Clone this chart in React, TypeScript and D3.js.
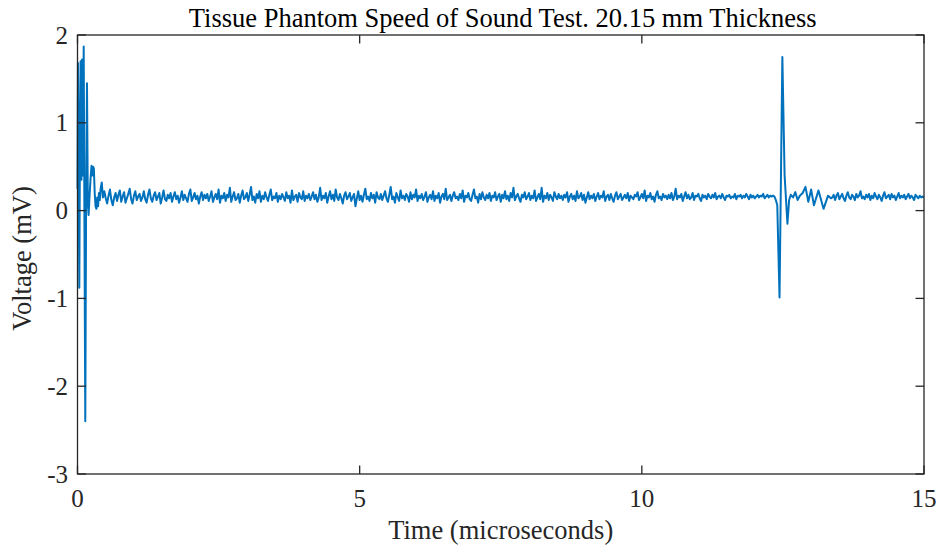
import React from "react";
import * as d3 from "d3";

// ---- data (time in microseconds, voltage in mV) ----
const burstTime = [0, 0.008, 0.016, 0.032, 0.045, 0.055, 0.07, 0.08, 0.095, 0.11, 0.124, 0.138, 0.153, 0.168, 0.183, 0.197, 0.212, 0.23, 0.248, 0.262, 0.275, 0.29, 0.305, 0.32, 0.335, 0.35, 0.365, 0.38, 0.395, 0.41, 0.43, 0.45];
const burstValue = [0.25, 1.68, 0.9, -0.88, 1.0, 1.7, 0.35, 1.72, 0.4, 1.87, -0.3, -2.4, 0.2, 1.45, 0.1, -0.05, 0.15, 0.35, 0.51, 0.4, 0.5, 0.48, 0.2, 0.05, 0.02, 0.15, 0.05, 0.2, 0.12, 0.25, 0.32, 0.15];

// baseline noise, hundredths of mV, sampled every 0.025 us from 0.475 us
const noiseStart = 0.475;
const noiseStep = 0.025;
const noiseHundredths = [
  22,14,8,17,24,12,6,15,20,11,18,23,10,16,21,9,14,19,25,13,8,17,22,12,16,
  19,11,15,22,13,9,18,24,14,10,17,21,12,16,20,8,15,23,13,11,18,14,20,10,16,
  21,13,17,9,15,22,12,18,14,10,19,24,11,15,20,13,17,8,16,21,12,18,14,19,11,
  16,22,10,15,19,13,24,9,17,14,20,11,18,15,26,10,16,21,12,14,19,9,17,23,13,
  15,20,11,18,27,12,16,9,19,14,22,10,17,13,21,15,11,18,24,12,16,14,20,10,17,
  13,19,15,11,21,14,17,9,23,12,16,18,10,20,15,13,22,11,17,14,19,12,16,21,13,
  18,10,15,26,12,17,14,20,9,16,22,13,18,11,24,15,12,19,14,8,17,21,13,16,20,
  11,15,19,5,14,22,12,17,10,18,25,13,16,11,20,14,18,9,21,15,13,19,12,17,22,
  14,10,18,27,13,16,9,20,15,11,23,14,17,12,19,16,10,21,13,18,15,24,11,17,14,
  19,12,16,21,10,15,18,13,22,11,17,14,20,9,16,19,13,25,12,15,18,11,17,21,14,
  16,12,19,14,23,10,17,15,20,13,11,18,24,14,16,9,19,13,21,15,12,18,14,20,11,
  17,15,21,12,16,19,10,18,14,22,13,17,11,20,15,26,12,16,19,14,10,18,15,21,13,
  16,20,12,17,14,23,11,15,19,13,26,10,17,14,20,12,18,15,11,21,16,13,19,14,17,
  12,18,15,21,10,16,19,13,17,11,22,14,16,20,12,18,9,15,21,13,17,14,19,11,16,
  20,13,17,15,22,11,16,18,12,19,14,10,17,21,13,16,19,12,15,18,14,20,11,17,15,
  13,18,16,21,12,15,19,14,23,11,17,15,20,13,16,10,18,22,14,16,12,19,15,17,13,
  18,14,20,12,16,25,13,17,15,19,11,16,21,14,18,13,15,20,12,17,16,19,14,11,18,
  15,17,13,19,16,14,18,15,20,13,16,17,14,19,15,12,17,16,18,14,16,15,19,13,17,
  16,18,14,17,15,19,16,13,18,15,17,14,16,18,15,17,16,19,14,16,18,15,17,16,17,
];

const echoTime = [12.35, 12.375, 12.4, 12.44, 12.49, 12.53, 12.58, 12.61, 12.64, 12.68, 12.72, 12.76, 12.8, 12.85, 12.9, 12.95, 13.0, 13.05, 13.13, 13.22, 13.3, 13.35];
const echoValue = [0.16, 0.12, 0.06, -0.99, 1.75, 0.4, -0.15, 0.12, 0.18, 0.15, 0.21, 0.12, 0.17, 0.2, 0.27, 0.1, 0.24, 0.06, 0.23, 0.02, 0.17, 0.14];

// tail noise, hundredths of mV, every 0.025 us from 13.375 us
const tailStart = 13.375;
const tailHundredths = [
  15,18,12,17,20,13,16,19,14,11,17,21,15,13,18,16,12,19,15,17,22,14,16,13,18,
  15,19,12,17,14,20,16,13,18,15,11,17,21,14,16,18,13,19,15,17,12,16,20,14,17,
  15,18,13,16,19,14,17,15,12,18,16,14,17,15,16,15,
];

const xTicks = [0, 5, 10, 15];
const yTicks = [-3, -2, -1, 0, 1, 2];
const titleText = "Tissue Phantom Speed of Sound Test. 20.15 mm Thickness";
const xLabelText = "Time (microseconds)";
const yLabelText = "Voltage (mV)";

type Pt = { t: number; v: number };
const points: Pt[] = [
  ...burstTime.map((t, i) => ({ t, v: burstValue[i] })),
  ...noiseHundredths.map((h, i) => ({ t: noiseStart + i * noiseStep, v: h / 100 })),
  ...echoTime.map((t, i) => ({ t, v: echoValue[i] })),
  ...tailHundredths.map((h, i) => ({ t: tailStart + i * noiseStep, v: h / 100 })),
].filter((p) => p.t <= 15);

const W = 941, H = 546;
const L = 77.5, R = 924, T = 35, B = 474;

export default function App() {
  const x = d3.scaleLinear().domain([0, 15]).range([L, R]);
  const y = d3.scaleLinear().domain([-3, 2]).range([B, T]);
  const line = d3.line<Pt>().x((d) => x(d.t)).y((d) => y(d.v));
  const font = "'Liberation Serif', 'Times New Roman', serif";
  const axisColor = "#262626";
  const tk = 8.5;
  return (
    <div style={{ position: "absolute", left: 0, top: 0 }}>
      <svg width={W} height={H} style={{ display: "block", background: "#fff" }}>
        <path d={line(points) ?? ""} fill="none" stroke="#0072BD" strokeWidth={2} strokeLinejoin="round" />
        <rect x={L} y={T} width={R - L} height={B - T} fill="none" stroke={axisColor} strokeWidth={1.3} />
        {xTicks.map((t) => (
          <g key={"x" + t}>
            <line x1={x(t)} x2={x(t)} y1={B} y2={B - tk} stroke={axisColor} strokeWidth={1.3} />
            <line x1={x(t)} x2={x(t)} y1={T} y2={T + tk} stroke={axisColor} strokeWidth={1.3} />
            <text x={x(t)} y={507} textAnchor="middle" fontFamily={font} fontSize={25} fill={axisColor}>{t}</text>
          </g>
        ))}
        {yTicks.map((v) => (
          <g key={"y" + v}>
            <line x1={L} x2={L + tk} y1={y(v)} y2={y(v)} stroke={axisColor} strokeWidth={1.3} />
            <line x1={R} x2={R - tk} y1={y(v)} y2={y(v)} stroke={axisColor} strokeWidth={1.3} />
            <text x={68} y={y(v) + 8.5} textAnchor="end" fontFamily={font} fontSize={25} fill={axisColor}>{v}</text>
          </g>
        ))}
        <text x={(L + R) / 2 + 2} y={27} textAnchor="middle" fontFamily={font} fontSize={26.5} fill="#000">{titleText}</text>
        <text x={(L + R) / 2} y={539} textAnchor="middle" fontFamily={font} fontSize={26.5} fill={axisColor}>{xLabelText}</text>
        <text transform={`translate(31,${(T + B) / 2 + 4}) rotate(-90)`} textAnchor="middle" fontFamily={font} fontSize={26.5} fill={axisColor}>{yLabelText}</text>
      </svg>
    </div>
  );
}
